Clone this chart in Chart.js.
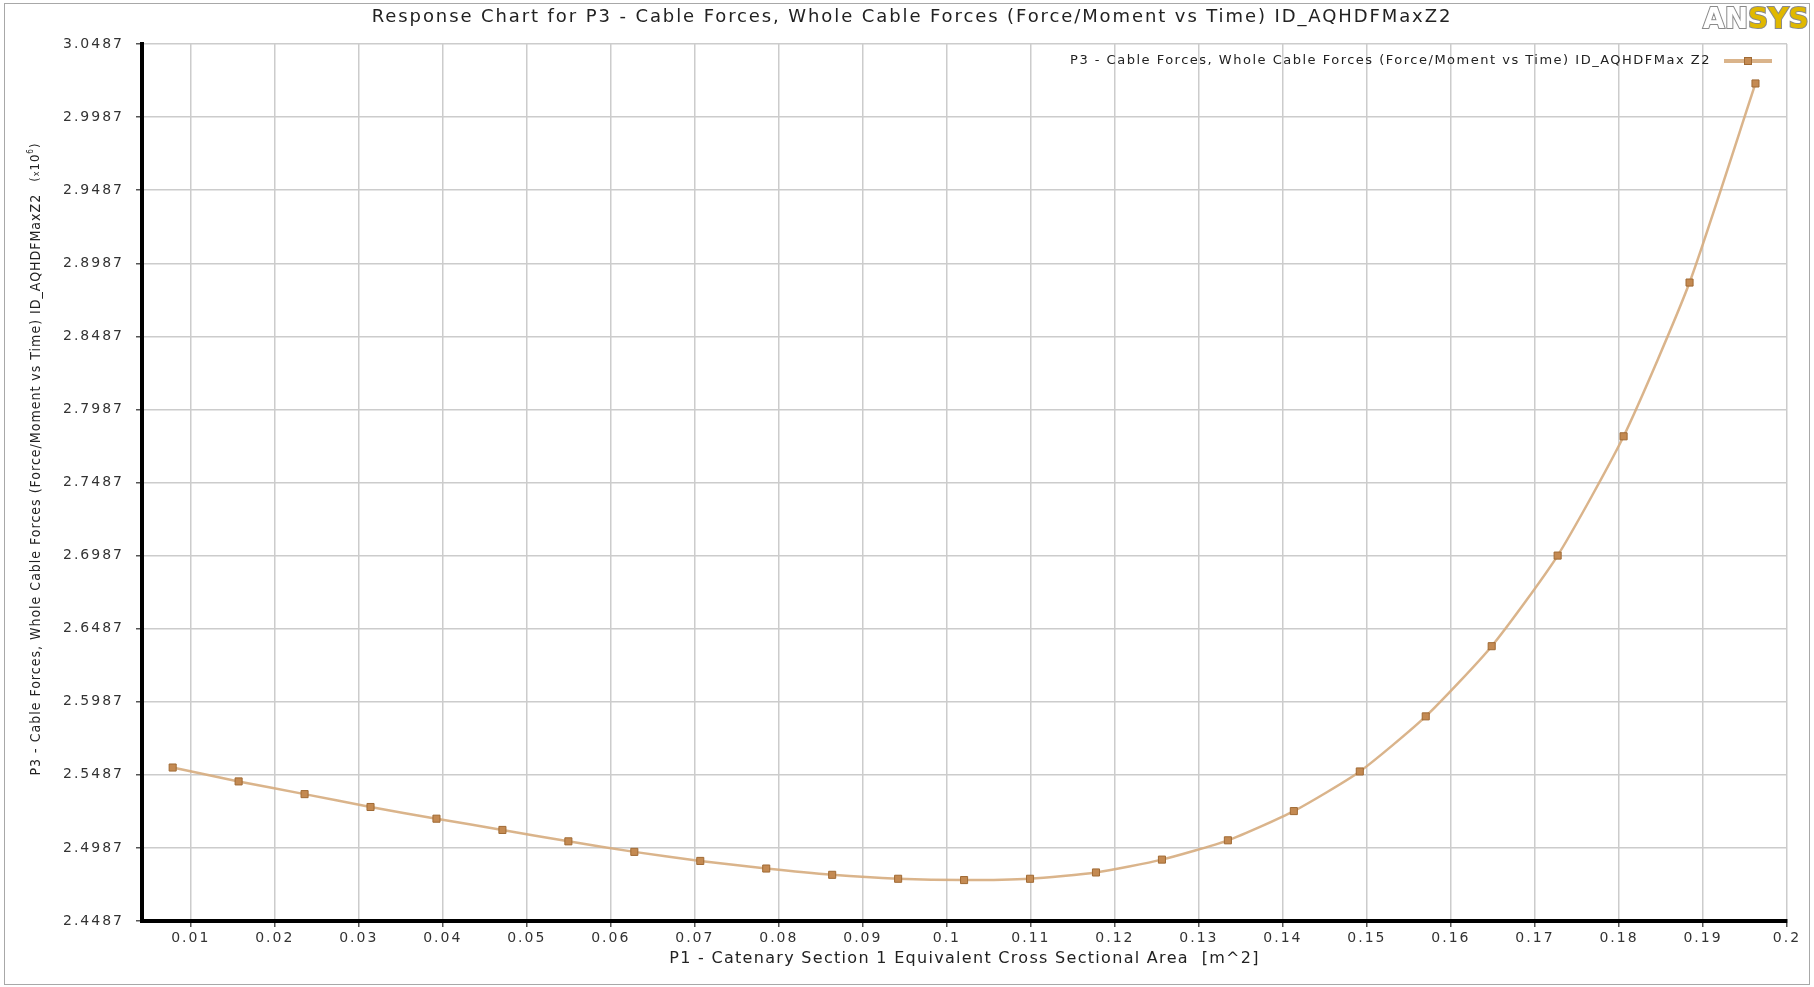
<!DOCTYPE html>
<html>
<head>
<meta charset="utf-8">
<title>Response Chart for P3</title>
<script src="https://cdn.jsdelivr.net/npm/chart.js@4/dist/chart.umd.min.js"></script>
<style>
  html, body { margin: 0; padding: 0; background: #fff; }
  canvas { display: block; }
</style>
</head>
<body>
<canvas id="chart" width="1814" height="987"></canvas>
<script>
// Cross sectional area of catenary section 1 [m^2]
const areaValues = [
  0.00785, 0.0157, 0.02355, 0.0314, 0.03925, 0.0471, 0.05495, 0.0628, 0.07065,
  0.0785, 0.08635, 0.0942, 0.10205, 0.1099, 0.11775, 0.1256, 0.13345, 0.1413,
  0.14915, 0.157, 0.16485, 0.1727, 0.18055, 0.1884, 0.19625
]
// Whole cable force (x10^6)
const forceValues = [
  2.5537, 2.5442, 2.5355, 2.5267, 2.5187, 2.5110, 2.5032, 2.4960, 2.4898,
  2.4846, 2.4803, 2.4776, 2.4767, 2.4776, 2.4819, 2.4907, 2.5039, 2.5239,
  2.5510, 2.5887, 2.6367, 2.6987, 2.7803, 2.8855, 3.0217
]
const xTickLabels = [
  "0.01", "0.02", "0.03", "0.04", "0.05", "0.06", "0.07", "0.08", "0.09", "0.1",
  "0.11", "0.12", "0.13", "0.14", "0.15", "0.16", "0.17", "0.18", "0.19", "0.2"
]
const yTickLabels = [
  "2.4487", "2.4987", "2.5487", "2.5987", "2.6487", "2.6987",
  "2.7487", "2.7987", "2.8487", "2.8987", "2.9487", "2.9987", "3.0487"
]

const seriesName = "P3 - Cable Forces, Whole Cable Forces (Force/Moment vs Time) ID_AQHDFMax Z2"
const chartTitle = "Response Chart for P3 - Cable Forces, Whole Cable Forces (Force/Moment vs Time) ID_AQHDFMaxZ2"
const xTitle = "P1 - Catenary Section 1 Equivalent Cross Sectional Area  [m^2]"
const yTitle = "P3 - Cable Forces, Whole Cable Forces (Force/Moment vs Time) ID_AQHDFMaxZ2"

const lineColor = "rgba(214, 172, 126, 0.9)"
const markFill = "#c48a52"
const markEdge = "#a06a34"
const gridColor = "#cccccc"
const textColor = "#333333"

// wide spacing for the tick labels, like the Java renderer
const tickSpacing = {
  id: "tickSpacing",
  beforeDraw(chart) {
    chart.ctx.letterSpacing = "2px"
  }
}

// Title, axis titles, legend, logo and frame
const decorations = {
  id: "decorations",
  afterDraw(chart) {
    const ctx = chart.ctx
    const area = chart.chartArea
    ctx.save()

    // outer frame
    ctx.strokeStyle = "#a8a8a8"
    ctx.lineWidth = 1
    ctx.strokeRect(4.5, 3.5, 1805, 981)

    // title
    ctx.fillStyle = "#222"
    ctx.font = "18px 'DejaVu Sans'"
    ctx.letterSpacing = "1.9px"
    ctx.textAlign = "center"
    ctx.textBaseline = "middle"
    ctx.fillText(chartTitle, 912, 17)

    // x axis title
    ctx.font = "16px 'DejaVu Sans'"
    ctx.letterSpacing = "1.3px"
    ctx.fillText(xTitle, (area.left + area.right) / 2, 959)

    // y axis title, rotated
    ctx.save()
    ctx.translate(36, 459)
    ctx.rotate(-Math.PI / 2)
    ctx.letterSpacing = "1px"
    ctx.font = "14px 'DejaVu Sans Condensed'"
    const mainW = ctx.measureText(yTitle).width
    const parts = [
      { t: "(", f: "13px 'DejaVu Sans Condensed'", dy: 0 },
      { t: "x", f: "9px 'DejaVu Sans Condensed'", dy: 1 },
      { t: "10", f: "13px 'DejaVu Sans Condensed'", dy: 0 },
      { t: "6", f: "8px 'DejaVu Sans Condensed'", dy: -5 },
      { t: ")", f: "13px 'DejaVu Sans Condensed'", dy: 0 }
    ]
    let sufW = 0
    parts.forEach((p) => { ctx.font = p.f; sufW += ctx.measureText(p.t).width })
    const gap = 12
    let x = -(mainW + gap + sufW) / 2
    ctx.textAlign = "left"
    ctx.font = "14px 'DejaVu Sans Condensed'"
    ctx.fillText(yTitle, x, 0)
    x += mainW + gap
    parts.forEach((p) => {
      ctx.font = p.f
      ctx.fillText(p.t, x, p.dy)
      x += ctx.measureText(p.t).width
    })
    ctx.restore()

    // legend, text right-aligned before a line sample
    ctx.font = "13px 'DejaVu Sans'"
    ctx.letterSpacing = "1.5px"
    ctx.textAlign = "right"
    ctx.fillStyle = "#222"
    ctx.fillText(seriesName, 1711, 61)
    ctx.strokeStyle = lineColor
    ctx.lineWidth = 4
    ctx.beginPath()
    ctx.moveTo(1724, 61)
    ctx.lineTo(1772, 61)
    ctx.stroke()
    ctx.fillStyle = markFill
    ctx.strokeStyle = markEdge
    ctx.lineWidth = 1
    ctx.fillRect(1744.5, 57.5, 7, 7)
    ctx.strokeRect(1744.5, 57.5, 7, 7)

    // logo
    ctx.letterSpacing = "0px"
    ctx.font = "bold 28px 'DejaVu Sans'"
    ctx.textAlign = "left"
    ctx.textBaseline = "alphabetic"
    ctx.lineWidth = 2
    ctx.strokeStyle = "#8a8a8a"
    ctx.translate(1703, 28)
    ctx.fillStyle = "#ffffff"
    ctx.strokeText("AN", 0, 0)
    ctx.fillText("AN", 0, 0)
    const anW = ctx.measureText("AN").width
    ctx.fillStyle = "#e0b800"
    ctx.strokeText("SYS", anW, 0)
    ctx.fillText("SYS", anW, 0)

    ctx.restore()
  }
}

new Chart(document.getElementById("chart"), {
  type: "line",
  data: {
    datasets: [{
      label: seriesName,
      data: areaValues.map((a, i) => ({ x: a, y: forceValues[i] })),
      borderColor: lineColor,
      borderWidth: 2.5,
      tension: 0.2,
      pointStyle: "rect",
      pointRadius: 5,
      pointBackgroundColor: markFill,
      pointBorderColor: markEdge,
      pointBorderWidth: 1
    }]
  },
  options: {
    responsive: false,
    animation: false,
    devicePixelRatio: 1,
    layout: { padding: { top: 44, right: 27, left: 0, bottom: 0 } },
    plugins: {
      legend: { display: false },
      title: { display: false },
      tooltip: { enabled: false }
    },
    scales: {
      x: {
        type: "linear",
        min: 0.0042,
        max: 0.2,
        afterBuildTicks: (s) => { s.ticks = xTickLabels.map((t) => ({ value: parseFloat(t) })) },
        afterFit: (s) => { s.height = 66 },
        ticks: {
          callback: (v, i) => xTickLabels[i],
          color: textColor,
          font: { family: "DejaVu Sans", size: 14 },
          padding: 3,
          maxRotation: 0,
          autoSkip: false
        },
        grid: { color: gridColor, lineWidth: 1.5, tickLength: 6, tickColor: "#555" },
        border: { color: "#000", width: 4 }
      },
      y: {
        type: "linear",
        min: 2.4487,
        max: 3.0487,
        afterBuildTicks: (s) => { s.ticks = yTickLabels.map((t) => ({ value: parseFloat(t) })) },
        afterFit: (s) => { s.width = 142 },
        ticks: {
          callback: (v, i) => yTickLabels[i],
          color: textColor,
          font: { family: "DejaVu Sans", size: 14 },
          padding: 12,
          autoSkip: false
        },
        grid: { color: gridColor, lineWidth: 1.5, tickLength: 6, tickColor: "#555" },
        border: { color: "#000", width: 4 }
      }
    }
  },
  plugins: [tickSpacing, decorations]
})
</script>
</body>
</html>
